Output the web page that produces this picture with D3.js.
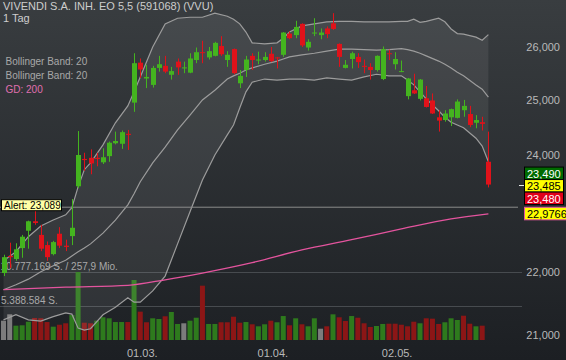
<!DOCTYPE html>
<html>
<head>
<meta charset="utf-8">
<script src="https://cdn.jsdelivr.net/npm/d3@7"></script>
<style>
  body { margin: 0; background: #26292d; }
  svg { display: block; font-family: "Liberation Sans", Arial, sans-serif; }
</style>
</head>
<body>
<svg id="chart"></svg>
<script>
// daily candles, index 0 = first bar on the left
var opens  = [21.99,22.27,22.22,22.40,22.69,22.85,22.62,22.45,22.30,22.64,22.44,22.60,23.45,23.93,23.95,23.95,23.87,23.98,24.21,24.20,
              24.38,24.95,25.70,25.40,25.28,25.60,25.64,25.47,25.72,25.59,25.51,25.75,25.90,25.80,25.83,26.02,25.75,25.96,25.31,25.56,
              25.83,25.74,25.75,25.87,25.80,25.85,26.26,26.23,26.45,25.99,26.27,26.23,26.36,26.46,26.06,25.60,25.77,25.81,25.64,25.62,
              25.56,25.39,25.88,25.67,25.53,25.07,25.18,25.02,25.03,24.99,24.68,24.63,24.68,24.67,24.81,24.74,24.58,24.59,23.88];
var highs  = [22.29,22.49,22.48,22.62,22.86,23.03,22.79,22.51,22.52,22.75,22.54,23.23,24.43,24.04,24.10,24.04,24.12,24.24,24.42,24.44,
              24.45,25.88,25.78,25.66,25.64,25.83,25.83,25.62,25.78,25.72,25.88,25.99,26.12,26.00,26.10,26.21,25.92,25.97,25.56,25.83,
              25.88,25.91,25.90,26.00,25.81,26.29,26.30,26.51,26.46,26.15,26.56,26.36,26.40,26.66,26.07,25.75,25.91,25.88,25.76,25.69,
              25.84,26.01,25.95,25.90,25.74,25.41,25.49,25.39,25.26,25.12,24.81,24.81,24.84,25.01,25.00,24.89,24.72,24.69,24.42];
var lows   = [21.94,22.07,22.19,22.24,22.39,22.79,22.35,22.19,22.28,22.40,22.35,22.45,23.42,23.72,23.66,23.80,23.84,23.88,24.19,24.11,
              24.09,24.78,25.41,25.22,25.23,25.53,25.50,25.38,25.47,25.50,25.50,25.69,25.69,25.76,25.82,25.83,25.62,25.48,25.22,25.43,
              25.56,25.67,25.72,25.71,25.59,25.81,26.15,26.17,26.00,25.93,26.21,26.15,26.17,26.33,25.62,25.59,25.59,25.60,25.50,25.38,
              25.53,25.37,25.75,25.57,25.52,25.01,25.11,24.99,24.86,24.74,24.42,24.60,24.52,24.66,24.69,24.50,24.48,24.44,23.43];
var closes = [22.25,22.25,22.38,22.59,22.85,22.82,22.39,22.25,22.50,22.44,22.42,22.74,24.00,23.91,23.85,23.93,23.96,24.22,24.25,24.41,
              24.36,25.69,25.57,25.43,25.60,25.67,25.53,25.54,25.61,25.61,25.78,25.90,25.89,25.92,26.08,25.86,25.85,25.50,25.45,25.76,
              25.75,25.76,25.81,25.73,25.79,26.28,26.17,26.39,26.03,26.10,26.28,26.28,26.25,26.35,25.81,25.66,25.88,25.71,25.62,25.56,
              25.83,25.96,25.87,25.77,25.54,25.40,25.12,25.38,24.87,24.75,24.62,24.75,24.83,24.97,24.89,24.54,24.63,24.56,23.48];
// volume in million shares (the last bar has no volume yet)
var volumesMio = [3.06,4.07,2.27,2.33,2.90,3.49,3.45,2.85,2.11,2.42,2.65,3.96,10.777169,2.74,2.65,3.06,3.60,3.44,2.85,2.85,
                  2.85,9.51,4.49,2.81,3.44,3.33,3.76,4.44,2.54,2.65,3.06,3.53,8.61,2.54,2.54,2.81,2.81,3.69,2.74,2.85,
                  2.49,2.17,2.49,3.06,2.81,3.80,2.33,3.44,2.49,2.17,3.44,1.79,2.17,4.07,3.60,3.01,3.80,3.53,2.65,2.06,
                  2.22,2.54,2.58,2.58,2.42,2.17,2.90,2.65,3.44,3.38,2.54,2.81,3.44,3.17,3.85,2.58,2.17,2.27];

// bollinger band (20) read at these bar indices
var bbIdx    = [0,2,4,6,8,10,11,12,13,14,16,18,20,21,22,24,26,28,30,32,34,36,37,38,39,40,42,44,45,46,48,50,52,54,56,58,60,62,64,65,66,67,68,70,71,72,73,74,76,77,78];
var bbUpper  = [22.19,22.34,22.59,22.77,22.87,22.96,23.08,23.44,23.74,23.86,24.18,24.58,24.89,25.15,25.43,26.00,26.45,26.56,26.58,26.58,
                26.66,26.60,26.54,26.45,26.29,26.08,26.06,26.08,26.17,26.29,26.41,26.45,26.49,26.50,26.50,26.49,26.49,26.49,26.50,26.50,
                26.54,26.48,26.50,26.56,26.49,26.35,26.26,26.25,26.19,26.13,26.24];
var bbMiddle = [21.72,21.80,21.89,22.01,22.11,22.20,22.27,22.34,22.40,22.47,22.65,22.87,23.13,23.32,23.53,23.86,24.14,24.45,24.72,25.00,
                25.18,25.39,25.45,25.50,25.56,25.60,25.67,25.73,25.77,25.81,25.85,25.88,25.92,25.96,25.96,25.95,25.94,25.95,25.97,25.95,
                25.92,25.88,25.83,25.73,25.67,25.60,25.52,25.45,25.28,25.20,25.05];
var bbLower  = [21.24,21.32,21.24,21.22,21.29,21.35,21.33,21.11,21.08,21.10,21.32,21.44,21.59,21.52,21.52,21.70,21.94,22.47,23.01,23.56,
                24.00,24.36,24.54,24.85,25.15,25.33,25.39,25.37,25.38,25.39,25.39,25.37,25.41,25.39,25.37,25.43,25.48,25.45,25.45,25.37,
                25.28,25.15,25.02,24.80,24.68,24.59,24.54,24.49,24.30,24.16,23.88];

// 200 day line (GD 200)
var gdIdx    = [0,10,20,26,32,40,48,56,64,72,78];
var gdValues = [21.72,21.76,21.79,21.88,21.99,22.16,22.37,22.54,22.72,22.89,22.9766];

var tickIdx    = [22, 43, 63];
var tickLabels = ["01.03.", "01.04.", "02.05."];
var priceTicks = [21, 22, 24, 25, 26];

var alertLevel = 23.089;
var quotes = [23.490, 23.485, 23.480];   // bid, mid, last
var maxVolume = 10777169;
var maxTurnoverMio = 257.9;

var width = 566, height = 360;
var de = d3.formatLocale({ decimal: ",", thousands: ".", grouping: [3], currency: ["", " €"] });
var fmt3 = de.format(".3f"), fmt4 = de.format(".4f"), fmtInt = de.format(",d");

var svg = d3.select("#chart").attr("width", width).attr("height", height);

// background gradient
var grad = svg.append("defs").append("linearGradient")
  .attr("id", "bg").attr("x1", 0).attr("y1", 0).attr("x2", 0).attr("y2", 1);
grad.append("stop").attr("offset", "0%").attr("stop-color", "#393d40");
grad.append("stop").attr("offset", "100%").attr("stop-color", "#1c1f23");
svg.append("rect").attr("width", width).attr("height", height).attr("fill", "url(#bg)");

var x = d3.scaleLinear().domain([0, 78]).range([3.5, 488.4]);
var y = d3.scaleLog().domain([24, 26]).range([155, 47]);
var yVol = d3.scaleLinear().domain([0, maxVolume / 1e6]).range([340, 272]);

// volume reference lines (max and half)
svg.selectAll(".vgrid")
  .data([maxVolume / 1e6, maxVolume / 2e6])
  .enter().append("line")
  .attr("x1", 0).attr("x2", 522)
  .attr("y1", d => Math.round(yVol(d)) + 0.5).attr("y2", d => Math.round(yVol(d)) + 0.5)
  .attr("stroke", "#474b4f");

// volume bars, coloured by change against the previous close
svg.selectAll(".vol")
  .data(volumesMio)
  .enter().append("rect")
  .attr("x", (d, i) => x(i) - 2.5)
  .attr("width", 5)
  .attr("y", d => yVol(d))
  .attr("height", d => yVol(0) - yVol(d))
  .attr("fill", (d, i) => {
    if (i === 0 || closes[i] === closes[i - 1]) return "#7c7c7c";
    return closes[i] > closes[i - 1] ? "#2e7a1d" : "#8c1616";
  });

// bollinger band
var bb = bbIdx.map((d, k) => ({ i: d, up: bbUpper[k], mid: bbMiddle[k], lo: bbLower[k] }));
svg.append("path")
  .datum(bb)
  .attr("fill", "rgba(255,255,255,0.075)")
  .attr("d", d3.area().x(d => x(d.i)).y0(d => y(d.lo)).y1(d => y(d.up)));
["up", "mid", "lo"].forEach(function (key) {
  svg.append("path")
    .datum(bb)
    .attr("fill", "none")
    .attr("stroke", "#9c9c9c")
    .attr("stroke-width", 1.2)
    .attr("d", d3.line().x(d => x(d.i)).y(d => y(d[key])));
});

// GD 200
svg.append("path")
  .datum(gdIdx.map((d, k) => ({ i: d, v: gdValues[k] })))
  .attr("fill", "none")
  .attr("stroke", "#e4549e")
  .attr("stroke-width", 1.3)
  .attr("d", d3.line().x(d => x(d.i)).y(d => y(d.v)).curve(d3.curveMonotoneX));

// alert line
svg.append("line")
  .attr("x1", 0).attr("x2", 518)
  .attr("y1", y(alertLevel)).attr("y2", y(alertLevel))
  .attr("stroke", "#8c8c8c");

// volume labels (drawn under the candles)
svg.append("text").attr("x", 0.5).attr("y", 270)
  .attr("font-size", 10).attr("fill", "#a9a9a9")
  .text(fmtInt(maxVolume) + " S. / " + de.format(".1f")(maxTurnoverMio) + " Mio.");
svg.append("text").attr("x", 1).attr("y", 304)
  .attr("font-size", 10).attr("fill", "#a9a9a9")
  .text(fmtInt(Math.floor(maxVolume / 2)) + " S.");

// candles
var candles = closes.map((c, i) => ({ i: i, o: opens[i], h: highs[i], l: lows[i], c: c }));
var cg = svg.selectAll(".candle").data(candles).enter().append("g");
cg.append("line")
  .attr("x1", d => Math.round(x(d.i)) + 0.5).attr("x2", d => Math.round(x(d.i)) + 0.5)
  .attr("y1", d => y(d.h)).attr("y2", d => y(d.l))
  .attr("stroke", d => d.c > d.o ? "#44b41f" : "#e0121a");
cg.append("rect")
  .attr("x", d => Math.round(x(d.i)) - 2)
  .attr("width", 5)
  .attr("y", d => y(Math.max(d.o, d.c)))
  .attr("height", d => Math.max(1, y(Math.min(d.o, d.c)) - y(Math.max(d.o, d.c))))
  .attr("fill", d => d.c > d.o ? "#44b41f" : "#e0121a");

// alert label
var ya = y(alertLevel);
svg.append("rect").attr("x", 1.5).attr("y", ya - 7.5).attr("width", 60).attr("height", 11)
  .attr("fill", "#ffffa6").attr("stroke", "#000");
svg.append("text").attr("x", 4).attr("y", ya + 1.5)
  .attr("font-size", 10).attr("fill", "#000")
  .text("Alert: " + fmt3(alertLevel));

// price axis
svg.selectAll(".ptick")
  .data(priceTicks)
  .enter().append("text")
  .attr("x", 560).attr("y", d => y(d) + 4)
  .attr("text-anchor", "end")
  .attr("font-size", 11).attr("fill", "#b9b9b9")
  .text(d => fmt3(d));

// date axis
svg.selectAll(".xtick")
  .data(tickIdx)
  .enter().append("text")
  .attr("x", d => x(d) + 2).attr("y", 357)
  .attr("text-anchor", "middle")
  .attr("font-size", 11).attr("fill", "#b9b9b9")
  .text((d, k) => tickLabels[k]);

// quote boxes on the right
var yc = y(quotes[2]);
svg.append("line").attr("x1", 519).attr("x2", 524).attr("y1", Math.round(yc) + 0.5).attr("y2", Math.round(yc) + 0.5)
  .attr("stroke", "#e8e8e8");
var boxes = [
  { v: quotes[0], top: yc - 17.5, fill: "#006a00", text: "#fff", stroke: "#000", f: fmt3, w: 39 },
  { v: quotes[1], top: yc - 5,    fill: "#ffff00", text: "#000", stroke: "#000", f: fmt3, w: 39 },
  { v: quotes[2], top: yc + 7.5,  fill: "#e0001a", text: "#fff", stroke: "#000", f: fmt3, w: 39 },
  { v: gdValues[gdValues.length - 1], top: y(gdValues[gdValues.length - 1]) - 6.5, fill: "#ffff00", text: "#000", stroke: "#e4549e", f: fmt4, w: 44 }
];
var bx = svg.selectAll(".qbox").data(boxes).enter().append("g");
bx.append("rect")
  .attr("x", 524.5).attr("y", d => d.top).attr("width", d => d.w).attr("height", 12.5)
  .attr("fill", d => d.fill).attr("stroke", d => d.stroke);
bx.append("text")
  .attr("x", 527).attr("y", d => d.top + 10.5)
  .attr("font-size", 11).attr("fill", d => d.text)
  .text(d => d.f(d.v));

// title and legend
svg.append("text").attr("x", 3).attr("y", 10).attr("font-size", 11).attr("fill", "#cdcdcd")
  .text("VIVENDI S.A. INH. EO 5,5 (591068) (VVU)");
svg.append("text").attr("x", 3).attr("y", 21.5).attr("font-size", 11).attr("fill", "#cdcdcd")
  .text("1 Tag");
var legend = [
  { t: "Bollinger Band: 20", c: "#a8a8a8" },
  { t: "Bollinger Band: 20", c: "#a8a8a8" },
  { t: "GD: 200", c: "#e070b0" }
];
svg.selectAll(".leg").data(legend).enter().append("text")
  .attr("x", 5.5).attr("y", (d, i) => 65 + i * 13.8)
  .attr("font-size", 10).attr("fill", d => d.c)
  .text(d => d.t);
</script>
</body>
</html>
